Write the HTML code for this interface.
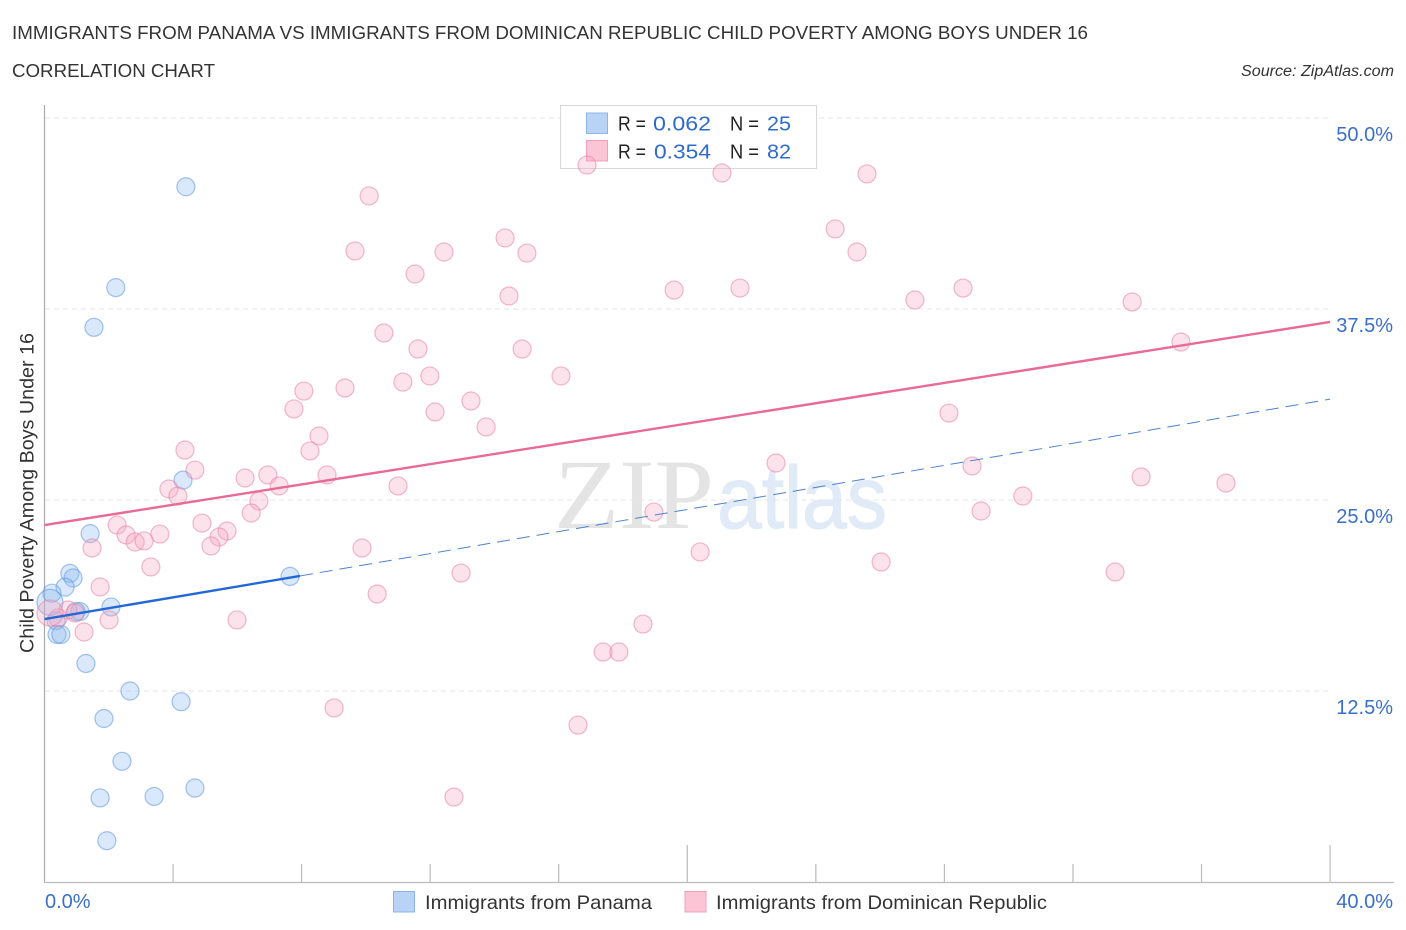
<!DOCTYPE html>
<html lang="en">
<head>
<meta charset="utf-8">
<title>Immigrants from Panama vs Immigrants from Dominican Republic Child Poverty Among Boys Under 16</title>
<style>
html,body{margin:0;padding:0;background:#fff;width:1406px;height:930px;overflow:hidden}
svg{display:block;font-family:"Liberation Sans",sans-serif}
</style>
</head>
<body>
<svg id="chart" width="1406" height="930" viewBox="0 0 1406 930" xmlns="http://www.w3.org/2000/svg">
  <rect width="1406" height="930" fill="#fff"/>
  <text x="12" y="39" font-size="18" fill="#333" textLength="1076" lengthAdjust="spacingAndGlyphs">IMMIGRANTS FROM PANAMA VS IMMIGRANTS FROM DOMINICAN REPUBLIC CHILD POVERTY AMONG BOYS UNDER 16</text>
  <text x="12" y="77" font-size="18" fill="#333" textLength="203" lengthAdjust="spacingAndGlyphs">CORRELATION CHART</text>
  <text x="1241" y="76" font-size="15.5" font-style="italic" fill="#333" textLength="153" lengthAdjust="spacingAndGlyphs">Source: ZipAtlas.com</text>
  <g>
    <text x="554" y="528" font-family="'Liberation Serif',serif" font-size="100" fill="#e4e4e4" textLength="160" lengthAdjust="spacingAndGlyphs">ZIP</text>
    <text x="717" y="528" font-size="88" fill="#e1ebf8" stroke="#e1ebf8" stroke-width="1.2" textLength="170" lengthAdjust="spacingAndGlyphs">atlas</text>
  </g>
  <g id="grid"></g>
  <g id="axes"></g>
  <g>
    <rect x="560.5" y="105.5" width="256" height="63" fill="#fff" stroke="#d8d8d8"/>
    <rect x="586.5" y="113" width="21" height="20.5" fill="#b9d3f7" stroke="#8db4e8"/>
    <rect x="586.5" y="140.5" width="21" height="20.5" fill="#fbc5d6" stroke="#f0a0bb"/>
    <g font-size="20">
      <text x="618" y="130.5" fill="#222" textLength="28" lengthAdjust="spacingAndGlyphs">R =</text>
      <text x="653" y="130.5" fill="#2f6bc9" textLength="58" lengthAdjust="spacingAndGlyphs">0.062</text>
      <text x="730" y="130.5" fill="#222" textLength="29" lengthAdjust="spacingAndGlyphs">N =</text>
      <text x="767" y="130.5" fill="#2f6bc9" textLength="24" lengthAdjust="spacingAndGlyphs">25</text>
    </g>
    <g font-size="20">
      <text x="618" y="158.5" fill="#222" textLength="28" lengthAdjust="spacingAndGlyphs">R =</text>
      <text x="654" y="158.5" fill="#2f6bc9" textLength="57" lengthAdjust="spacingAndGlyphs">0.354</text>
      <text x="730" y="158.5" fill="#222" textLength="29" lengthAdjust="spacingAndGlyphs">N =</text>
      <text x="767" y="158.5" fill="#2f6bc9" textLength="24" lengthAdjust="spacingAndGlyphs">82</text>
    </g>
  </g>
  <g id="panama-points"></g>
  <g id="dominican-points"></g>
  <g id="trends"></g>
  <g>
    <rect x="393.5" y="891.5" width="21" height="20.5" fill="#b9d3f7" stroke="#8db4e8"/>
    <text x="425" y="909" font-size="19.5" fill="#333" textLength="227" lengthAdjust="spacingAndGlyphs">Immigrants from Panama</text>
    <rect x="685" y="891.5" width="21" height="20.5" fill="#fbc5d6" stroke="#f0a0bb"/>
    <text x="716" y="909" font-size="19.5" fill="#333" textLength="331" lengthAdjust="spacingAndGlyphs">Immigrants from Dominican Republic</text>
  </g>
  <text transform="translate(33.5,493) rotate(-90)" font-size="19.5" fill="#333" text-anchor="middle" textLength="320" lengthAdjust="spacingAndGlyphs">Child Poverty Among Boys Under 16</text>
</svg>
<script>
const yTicks = [12.5, 25, 37.5, 50];
const yTickLabels = ["12.5%", "25.0%", "37.5%", "50.0%"];
const xTicks = [0, 4, 8, 12, 16, 20, 24, 28, 32, 36, 40];
const xMajorTicks = [20, 40];
const xEndLabels = ["0.0%", "40.0%"];

const panamaX = [4.40,2.22,1.54,4.31,1.42,7.64,0.79,0.89,0.64,0.23,2.07,1.10,0.98,0.36,0.39,0.51,1.29,2.66,4.25,1.85,2.41,1.73,3.41,4.68,1.94,0.17];
const panamaY = [45.5,38.9,36.3,26.3,22.8,20.0,20.2,19.9,19.3,18.9,18.0,17.7,17.7,17.1,16.2,16.2,14.3,12.5,11.8,10.7,7.9,5.5,5.6,6.15,2.7,18.3];
const panamaWeight = [1,1,1,1,1,1,1,1,1,1,1,1,1,1,1,1,1,1,1,1,1,1,1,1,1,2];

const dominicanX = [16.88,21.08,25.59,10.10,24.60,14.33,9.66,12.43,15.01,25.28,11.53,14.45,19.59,21.64,27.08,28.58,33.84,10.56,11.62,14.86,35.36,11.15,11.99,16.07,9.35,8.07,7.76,12.15,13.27,13.74,28.14,8.54,8.26,4.37,4.68,8.79,6.24,6.95,7.30,11.00,22.76,28.86,34.12,36.76,3.87,4.15,6.67,6.43,30.44,29.14,18.96,2.26,4.90,5.68,2.54,3.59,5.43,2.82,3.10,5.18,1.48,9.88,20.40,3.31,26.03,12.96,33.31,1.73,10.35,18.62,5.99,2.01,1.23,17.38,17.87,9.01,16.60,12.74,0.73,0.95,0.42,0.17];
const dominicanY = [46.92,46.40,46.34,44.90,42.74,42.15,41.30,41.23,41.16,41.23,39.79,38.35,38.74,38.87,38.09,38.87,37.96,35.93,34.88,34.88,35.34,32.72,33.12,33.12,32.33,32.13,30.96,30.76,31.48,29.78,30.69,29.19,28.21,28.27,26.96,26.64,26.44,26.64,25.92,25.92,27.42,27.23,26.51,26.11,25.72,25.26,24.93,24.15,25.26,24.28,24.21,23.36,23.49,22.97,22.71,22.77,22.58,22.25,22.32,21.99,21.86,21.86,21.60,20.62,20.94,20.22,20.29,19.31,18.85,16.88,17.15,17.15,16.36,15.05,15.05,11.39,10.27,5.56,17.80,17.60,17.28,17.60];
const dominicanWeight = [1,1,1,1,1,1,1,1,1,1,1,1,1,1,1,1,1,1,1,1,1,1,1,1,1,1,1,1,1,1,1,1,1,1,1,1,1,1,1,1,1,1,1,1,1,1,1,1,1,1,1,1,1,1,1,1,1,1,1,1,1,1,1,1,1,1,1,1,1,1,1,1,1,1,1,1,1,1,1,1,1,2];

const panamaTrendX = [0, 7.95];
const panamaTrendY = [17.21, 20.03];
const panamaForecastX = [7.95, 40];
const panamaForecastY = [20.03, 31.6];
const dominicanTrendX = [0, 40];
const dominicanTrendY = [23.36, 36.65];

const NS = "http://www.w3.org/2000/svg";
function xScale(v) { return 44.5 + v * 32.14; }
function yScale(v) { return 882 - v * 15.28; }
function radius(w) { return w > 1 ? 13 : 9; }
function make(tag, parent, attrs) {
  const el = document.createElementNS(NS, tag);
  for (const k in attrs) el.setAttribute(k, attrs[k]);
  parent.appendChild(el);
  return el;
}

const grid = document.getElementById("grid");
const axes = document.getElementById("axes");

yTicks.forEach(function (t, i) {
  const line = make("line", grid, { x1: 45, x2: 1331, y1: yScale(t), y2: yScale(t), stroke: "#e6e6e6", "stroke-width": 1, "stroke-dasharray": "5 4" });
  
  
  const label = make("text", axes, { x: 1393, y: yScale(t) + 23, "font-size": 20, fill: "#3a6fc9", "text-anchor": "end" });
  label.textContent = yTickLabels[i];
  
  
});

const yAxis = make("line", axes, { x1: 44.5, x2: 44.5, y1: 105, y2: 883, stroke: "#aaa", "stroke-width": 1.2 });


const xAxis = make("line", axes, { x1: 44, x2: 1394, y1: 882.5, y2: 882.5, stroke: "#bbb", "stroke-width": 1.2 });



xTicks.forEach(function (t) {
  if (t === 0) return;
  const major = xMajorTicks.indexOf(t) >= 0;
  const tick = make("line", axes, { x1: xScale(t), x2: xScale(t), y1: major ? 845 : 864, y2: 882, stroke: "#bbb", "stroke-width": 1.2 });
  
  
});

const xLabelStart = make("text", axes, { x: 45, y: 908, "font-size": 20, fill: "#3a6fc9" });
xLabelStart.textContent = xEndLabels[0];


const xLabelEnd = make("text", axes, { x: 1393, y: 908, "font-size": 20, fill: "#3a6fc9", "text-anchor": "end" });
xLabelEnd.textContent = xEndLabels[1];



const panamaGroup = document.getElementById("panama-points");
panamaX.forEach(function (x, i) {
  const c = make("circle", panamaGroup, { cx: xScale(x), cy: yScale(panamaY[i]), r: radius(panamaWeight[i]), fill: "#8db9f0", "fill-opacity": 0.33, stroke: "#5a94e0", "stroke-opacity": 0.55, "stroke-width": 1.2 });
  
  
});

const dominicanGroup = document.getElementById("dominican-points");
dominicanX.forEach(function (x, i) {
  const c = make("circle", dominicanGroup, { cx: xScale(x), cy: yScale(dominicanY[i]), r: radius(dominicanWeight[i]), fill: "#f7a8c2", "fill-opacity": 0.33, stroke: "#e77fa3", "stroke-opacity": 0.55, "stroke-width": 1.2 });
  
  
});

const trends = document.getElementById("trends");
const forecast = make("line", trends, { x1: xScale(panamaForecastX[0]), y1: yScale(panamaForecastY[0]), x2: xScale(panamaForecastX[1]), y2: yScale(panamaForecastY[1]), stroke: "#4d82cf", "stroke-width": 1, "stroke-dasharray": "13 7" });


const panamaTrend = make("line", trends, { x1: xScale(panamaTrendX[0]), y1: yScale(panamaTrendY[0]), x2: xScale(panamaTrendX[1]), y2: yScale(panamaTrendY[1]), stroke: "#2369d6", "stroke-width": 2.4 });


const dominicanTrend = make("line", trends, { x1: xScale(dominicanTrendX[0]), y1: yScale(dominicanTrendY[0]), x2: xScale(dominicanTrendX[1]), y2: yScale(dominicanTrendY[1]), stroke: "#e96a97", "stroke-width": 2.4 });


</script>
</body>
</html>
